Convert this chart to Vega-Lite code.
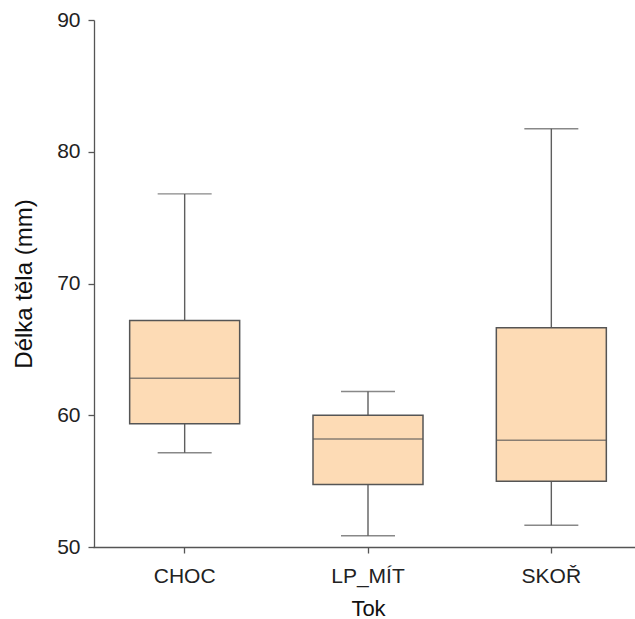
{
  "$schema": "https://vega.github.io/schema/vega-lite/v6.json",
  "autosize": {"type": "none"},
  "padding": {"left": 94, "top": 20, "right": 0, "bottom": 72},
  "width": 541,
  "height": 527,
  "background": "white",
  "config": {
    "view": {"stroke": null},
    "font": "Liberation Sans",
    "axis": {
      "grid": false,
      "domainColor": "#555555",
      "domainWidth": 1.3,
      "tickColor": "#555555",
      "tickWidth": 1.3,
      "tickSize": 6,
      "labelColor": "#222222",
      "labelFont": "Liberation Sans",
      "labelFontSize": 21,
      "titleColor": "#111111",
      "titleFont": "Liberation Sans",
      "titleFontWeight": "normal"
    }
  },
  "data": {
    "values": [
      {"Tok": "CHOC", "lower": 57.15, "q1": 59.35, "median": 62.8, "q3": 67.2, "upper": 76.8},
      {"Tok": "LP_MÍT", "lower": 50.85, "q1": 54.75, "median": 58.2, "q3": 60.0, "upper": 61.8},
      {"Tok": "SKOŘ", "lower": 51.65, "q1": 55.0, "median": 58.1, "q3": 66.65, "upper": 81.75}
    ]
  },
  "encoding": {
    "x": {
      "field": "Tok",
      "type": "nominal",
      "sort": ["CHOC", "LP_MÍT", "SKOŘ"],
      "scale": {"range": [-1, 549], "paddingInner": 0, "paddingOuter": 0},
      "axis": {
        "title": "Tok",
        "titleFontSize": 22,
        "titleBaseline": "alphabetic",
        "titleY": 68,
        "labelAngle": 0,
        "labelBaseline": "alphabetic",
        "labelPadding": 29
      }
    }
  },
  "layer": [
    {
      "mark": {"type": "rule", "color": "#5f5f5f", "strokeWidth": 1.4},
      "encoding": {
        "y": {
          "field": "lower",
          "type": "quantitative",
          "scale": {"domain": [50, 90], "nice": false, "zero": false},
          "axis": {
            "title": "Délka těla (mm)",
            "titleFontSize": 24,
            "titleBaseline": "alphabetic",
            "titleX": -63,
            "values": [50, 60, 70, 80, 90],
            "labelPadding": 8
          }
        },
        "y2": {"field": "upper"}
      }
    },
    {
      "mark": {"type": "tick", "color": "#555555", "size": 54, "thickness": 1.4},
      "encoding": {"y": {"field": "lower", "type": "quantitative"}}
    },
    {
      "mark": {"type": "tick", "color": "#555555", "size": 54, "thickness": 1.4},
      "encoding": {"y": {"field": "upper", "type": "quantitative"}}
    },
    {
      "mark": {"type": "bar", "fill": "#FDDBB5", "stroke": "#555555", "strokeWidth": 1.5, "width": {"band": 0.6}},
      "encoding": {
        "y": {"field": "q1", "type": "quantitative"},
        "y2": {"field": "q3"}
      }
    },
    {
      "mark": {"type": "tick", "color": "#555555", "size": 110, "thickness": 1.5},
      "encoding": {"y": {"field": "median", "type": "quantitative"}}
    }
  ]
}
